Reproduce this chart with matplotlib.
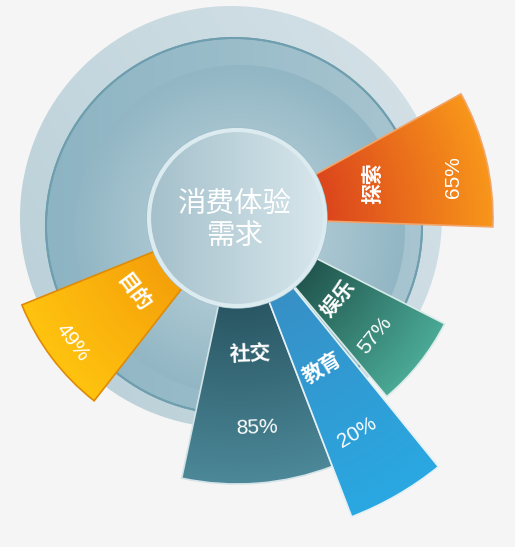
import numpy as np
import matplotlib.pyplot as plt
from matplotlib.patches import Wedge, Circle
from matplotlib.colors import LinearSegmentedColormap

plt.rcParams['font.family'] = ['Noto Sans CJK SC', 'DejaVu Sans']

# data
title_text = '消费体验\n需求'
labels = ['探索', '娱乐', '教育', '社交', '目的']
values = [65, 57, 20, 85, 49]

# layout of each sector (angles in degrees, radii in pixels)
theta_start = [-2, 310, 291, 258, 202]
theta_end = [29, 333, 309, 291, 232]
outer_r = [256, 233, 320, 266, 232]
inner_colors = ['#dc461d', '#22574f', '#3790c6', '#2a5764', '#f5a10a']
outer_colors = ['#f8961a', '#4aa995', '#2aa8e2', '#4c8898', '#ffc30f']
edge_colors = ['#f2a56a', '#d9ebe8', '#e3f1f7', '#d3e3e8', '#df8a06']
name_pos = [(14.4, 140), (321.6, 129), (299.7, 172), (275.5, 136), (215.8, 128)]
pct_pos = [(10.7, 220), (319.7, 181), (299.2, 246), (275.4, 211), (217.1, 206)]
rotations = [90, 51, 31, 2, -53]
z_order = [5, 6, 7, 5, 5]

W, H = 515, 547
cx, cy = 237, 329
r_in = 80

fig = plt.figure(figsize=(W / 100, H / 100), dpi=100)
fig.patch.set_facecolor('#f5f5f5')
ax = fig.add_axes([0, 0, 1, 1])
ax.set_facecolor('#f5f5f5')

xx, yy = np.meshgrid(np.arange(W) + 0.5, np.arange(H) + 0.5)


def gradient_fill(values_grid, c0, c1, patch, z):
    cmap = LinearSegmentedColormap.from_list('g', [c0, c1])
    img = cmap(np.clip(values_grid, 0, 1))
    im = ax.imshow(img, extent=(0, W, 0, H), origin='lower', zorder=z, interpolation='bilinear')
    ax.add_patch(patch)
    im.set_clip_path(patch)
    return im


# background disks
outer_disk = Circle((231, 330), 211, facecolor='none', edgecolor='none', zorder=1)
gradient_fill((xx - 20) / 420 * 0.6 + (yy - 120) / 420 * 0.4, '#b8ced7', '#d6e3e8', outer_disk, 1)

mid_disk = Circle((234, 321), 188, facecolor='none', edgecolor='#5f95a5', lw=1.2, zorder=2)
gradient_fill((xx - 40) / 400, '#8db4c3', '#a9c6d1', mid_disk, 2)
ax.add_patch(Circle((234, 321), 188, facecolor='none', edgecolor='#6f9fae', lw=1.5, zorder=2.5))

inner_disk = Circle((240, 317), 165, facecolor='none', edgecolor='none', zorder=3)
gradient_fill(np.hypot(xx - 240, yy - 317) / 165, '#c2d8e0', '#92b6c4', inner_disk, 3)

# sectors
rr = np.hypot(xx - cx, yy - cy)
for i in range(len(labels)):
    w = Wedge((cx, cy), outer_r[i], theta_start[i], theta_end[i], width=outer_r[i] - r_in,
              facecolor='none', edgecolor=edge_colors[i], lw=1.2, zorder=z_order[i])
    gradient_fill((rr - 90) / (outer_r[i] - 90), inner_colors[i], outer_colors[i], w, z_order[i])

# centre circle
centre = Circle((cx, cy), 88, facecolor='none', edgecolor='#dcebf0', lw=3, zorder=10)
gradient_fill((xx - (cx - 88)) / 176, '#a4c0cb', '#d8e7ec', centre, 10)
ax.add_patch(Circle((cx, cy), 90, facecolor='none', edgecolor='#9fbcc7', lw=1, zorder=9.5))

ax.text(cx - 2, cy - 2, title_text, ha='center', va='center', color='white',
        fontsize=20.5, linespacing=1.1, zorder=12)

for i in range(len(labels)):
    a, r = np.radians(name_pos[i][0]), name_pos[i][1]
    ax.text(cx + r * np.cos(a), cy + r * np.sin(a), labels[i], ha='center', va='center',
            color='white', fontsize=15, fontweight='bold', rotation=rotations[i],
            rotation_mode='anchor', zorder=12)
    a, r = np.radians(pct_pos[i][0]), pct_pos[i][1]
    ax.text(cx + r * np.cos(a), cy + r * np.sin(a), f'{values[i]}%', ha='center', va='center',
            color='white', fontsize=15, family=['Liberation Sans', 'DejaVu Sans'],
            rotation=rotations[i], rotation_mode='anchor', zorder=12)

ax.set_xlim(0, W)
ax.set_ylim(0, H)
ax.set_aspect('equal')
ax.axis('off')

fig.savefig('out.png', dpi=100, facecolor=fig.get_facecolor())
